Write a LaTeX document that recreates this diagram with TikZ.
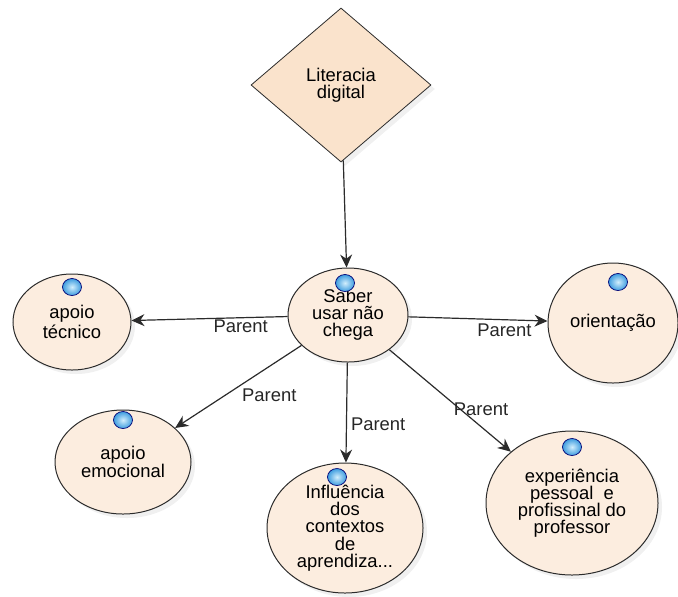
\documentclass[tikz,border=0pt]{standalone}
\usepackage{fontspec}
\setmainfont{Liberation Sans}
\usetikzlibrary{arrows.meta,positioning,shapes.geometric,shadows}
\definecolor{nodefill}{HTML}{FCEDDF}
\definecolor{rootfill}{HTML}{FAE3CC}
\definecolor{edgegray}{HTML}{2B2B2B}
\definecolor{dotblue}{HTML}{3D9CDF}
\definecolor{dotlight}{HTML}{D2EEFC}

\begin{document}
\begin{tikzpicture}[x=0.5pt,y=-0.5pt,
    every node/.style={font=\fontsize{9.2}{8.6}\selectfont},
    topic/.style={draw=edgegray,ellipse,fill=nodefill,align=center,inner sep=0pt,line width=0.5pt,
      drop shadow={opacity=0.12,shadow xshift=2pt,shadow yshift=-2pt}},
    bead/.style={ellipse,draw=blue!45!black,line width=0.35pt,shading=radial,inner color=dotlight,outer color=dotblue,
      minimum width=9.5pt,minimum height=8.5pt,inner sep=0pt},
    link/.style={draw=edgegray,line width=0.6pt,-{Stealth[length=6.5pt,width=6pt]}},
    lbl/.style={text=black!85,inner sep=1pt}]
    \useasboundingbox (0,0) rectangle (678,596);

    % root and centre
    \node[draw=edgegray,diamond,fill=rootfill,align=center,inner sep=0pt,minimum width=90pt,minimum height=77pt,
      drop shadow={opacity=0.12,shadow xshift=2pt,shadow yshift=-2pt}] (lit) at (341,85) {Literacia\\digital};
    \node[topic,minimum width=60pt,minimum height=47pt] (saber) at (348,315) {Saber\\usar não\\chega};

    % children
    \node[topic,minimum width=59pt,minimum height=48pt] (tecnico) at (72,322) {apoio\\técnico};
    \node[topic,minimum width=68pt,minimum height=52pt] (emocional) at (123,462) {apoio\\emocional};
    \node[topic,minimum width=78pt,minimum height=65pt] (contextos) at (345,528) {Influência\\dos\\contextos\\de\\aprendiza...};
    \node[topic,minimum width=65pt,minimum height=60pt] (orientacao) at (613,323) {orientação};
    \node[topic,minimum width=86pt,minimum height=72pt] (experiencia) at (572,503) {experiência\\pessoal\ \ e\\profissinal do\\professor};

    % blue markers
    \node[bead] (saberdot) at (345,283) {};
    \node[bead] (tecnicodot) at (72,287) {};
    \node[bead] (emocionaldot) at (123,420) {};
    \node[bead] (contextosdot) at (337,477) {};
    \node[bead] (orientacaodot) at (618,282) {};
    \node[bead] (experienciadot) at (572,447) {};

    \draw[link] (lit) -- (saber);
    \draw[link] (saber) -- node[lbl,pos=0.3,anchor=north] {Parent} (tecnico);
    \draw[link] (saber) -- node[lbl,pos=0.69,anchor=north,yshift=-1pt] {Parent} (orientacao);
    \draw[link] (saber) -- node[lbl,pos=0.49,anchor=north west] {Parent} (emocional);
    \draw[link] (saber) -- node[lbl,pos=0.62,anchor=west,xshift=1pt] {Parent} (contextos);
    \draw[link] (saber) -- node[lbl,pos=0.51,anchor=west,yshift=-4pt] {Parent} (experiencia);
  \end{tikzpicture}
\end{document}
